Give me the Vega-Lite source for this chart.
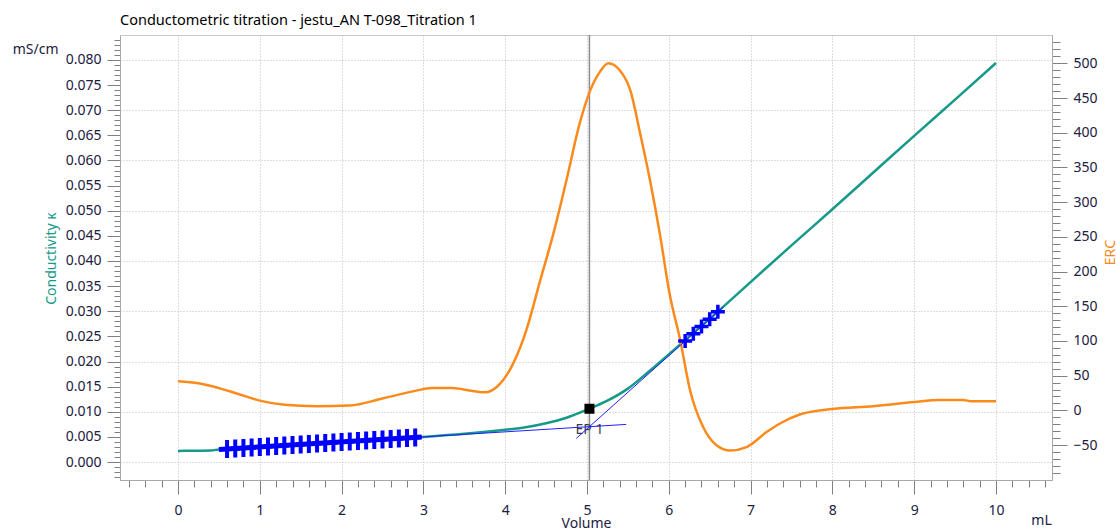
{
  "$schema": "https://vega.github.io/schema/vega-lite/v6.json",
  "width": 932,
  "height": 445,
  "autosize": {"type": "none"},
  "padding": {"left": 120, "top": 35, "right": 65, "bottom": 48},
  "background": "white",
  "config": {
    "font": "Noto Sans",
    "view": {"stroke": "#c8c8c8", "strokeWidth": 1},
    "axis": {
      "domainColor": "#a8a8a8",
      "tickColor": "#808080",
      "labelColor": "#202040",
      "labelFont": "Noto Sans",
      "labelFontSize": 14,
      "labelOverlap": false,
      "labelFlush": false,
      "labelBound": false,
      "gridColor": "#bdbdbd",
      "gridDash": [1, 2],
      "gridWidth": 1,
      "titleFont": "Noto Sans",
      "titleFontWeight": "normal",
      "titleFontSize": 14
    }
  },
  "title": {
    "text": "Conductometric titration - jestu_AN T-098_Titration 1",
    "anchor": "start",
    "frame": "group",
    "font": "Noto Sans",
    "fontSize": 14.5,
    "fontWeight": "normal",
    "color": "#000000",
    "baseline": "alphabetic",
    "offset": 9,
    "dy": 16
  },
  "datasets": {
    "cond": [
      {"v": 0, "k": 0.0022}, {"v": 0.25, "k": 0.00225}, {"v": 0.4, "k": 0.0023},
      {"v": 0.5, "k": 0.0025}, {"v": 0.75, "k": 0.00275}, {"v": 1, "k": 0.003},
      {"v": 1.5, "k": 0.0035}, {"v": 2, "k": 0.004}, {"v": 2.5, "k": 0.0045},
      {"v": 3, "k": 0.005}, {"v": 3.5, "k": 0.0056}, {"v": 4, "k": 0.0064},
      {"v": 4.25, "k": 0.0069}, {"v": 4.5, "k": 0.0077}, {"v": 4.75, "k": 0.0088},
      {"v": 5, "k": 0.0104}, {"v": 5.25, "k": 0.0122}, {"v": 5.5, "k": 0.0146},
      {"v": 5.75, "k": 0.0179}, {"v": 6, "k": 0.0214}, {"v": 6.25, "k": 0.025},
      {"v": 6.5, "k": 0.0285}, {"v": 7, "k": 0.0358}, {"v": 7.5, "k": 0.0431},
      {"v": 8, "k": 0.0503}, {"v": 8.5, "k": 0.0576}, {"v": 9, "k": 0.0649},
      {"v": 9.5, "k": 0.0721}, {"v": 10, "k": 0.0794}
    ],
    "erc": [
      {"v": 0, "erc": 42}, {"v": 0.25, "erc": 39}, {"v": 0.5, "erc": 32},
      {"v": 0.7, "erc": 25}, {"v": 1.0, "erc": 14}, {"v": 1.3, "erc": 8},
      {"v": 1.7, "erc": 6}, {"v": 2.1, "erc": 7}, {"v": 2.5, "erc": 17},
      {"v": 2.9, "erc": 28}, {"v": 3.1, "erc": 32}, {"v": 3.35, "erc": 32},
      {"v": 3.6, "erc": 28}, {"v": 3.75, "erc": 26}, {"v": 3.9, "erc": 34},
      {"v": 4.1, "erc": 68}, {"v": 4.26, "erc": 116}, {"v": 4.43, "erc": 188},
      {"v": 4.59, "erc": 255}, {"v": 4.75, "erc": 332}, {"v": 4.91, "erc": 413},
      {"v": 5.04, "erc": 461}, {"v": 5.16, "erc": 488}, {"v": 5.26, "erc": 500},
      {"v": 5.4, "erc": 490}, {"v": 5.53, "erc": 461}, {"v": 5.65, "erc": 399},
      {"v": 5.77, "erc": 332}, {"v": 5.89, "erc": 255}, {"v": 6.01, "erc": 168},
      {"v": 6.14, "erc": 101}, {"v": 6.26, "erc": 29}, {"v": 6.42, "erc": -24},
      {"v": 6.58, "erc": -50}, {"v": 6.75, "erc": -58}, {"v": 6.95, "erc": -53},
      {"v": 7.2, "erc": -31}, {"v": 7.36, "erc": -19}, {"v": 7.6, "erc": -6},
      {"v": 8.0, "erc": 2}, {"v": 8.5, "erc": 6}, {"v": 9.0, "erc": 12},
      {"v": 9.3, "erc": 15}, {"v": 9.6, "erc": 15}, {"v": 9.7, "erc": 13},
      {"v": 10, "erc": 13}
    ],
    "tangents": [
      {"seg": 1, "v": 0.5, "k": 0.0025}, {"seg": 1, "v": 5.48, "k": 0.00748},
      {"seg": 2, "v": 4.87, "k": 0.00471}, {"seg": 2, "v": 6.67, "k": 0.0309}
    ],
    "thick": [
      {"seg": 1, "v": 0.5, "k": 0.0025}, {"seg": 1, "v": 2.98, "k": 0.00498}
    ],
    "markers": [
      {"seg": 1, "v": 0.6, "k": 0.0026}, {"seg": 1, "v": 0.7, "k": 0.0027},
      {"seg": 1, "v": 0.8, "k": 0.0028}, {"seg": 1, "v": 0.9, "k": 0.0029},
      {"seg": 1, "v": 1.0, "k": 0.003}, {"seg": 1, "v": 1.1, "k": 0.0031},
      {"seg": 1, "v": 1.2, "k": 0.0032}, {"seg": 1, "v": 1.3, "k": 0.0033},
      {"seg": 1, "v": 1.4, "k": 0.0034}, {"seg": 1, "v": 1.5, "k": 0.0035},
      {"seg": 1, "v": 1.6, "k": 0.0036}, {"seg": 1, "v": 1.7, "k": 0.0037},
      {"seg": 1, "v": 1.8, "k": 0.0038}, {"seg": 1, "v": 1.9, "k": 0.0039},
      {"seg": 1, "v": 2.0, "k": 0.004}, {"seg": 1, "v": 2.1, "k": 0.0041},
      {"seg": 1, "v": 2.2, "k": 0.0042}, {"seg": 1, "v": 2.3, "k": 0.0043},
      {"seg": 1, "v": 2.4, "k": 0.0044}, {"seg": 1, "v": 2.5, "k": 0.0045},
      {"seg": 1, "v": 2.6, "k": 0.0046}, {"seg": 1, "v": 2.7, "k": 0.0047},
      {"seg": 1, "v": 2.8, "k": 0.0048}, {"seg": 1, "v": 2.9, "k": 0.0049},
      {"seg": 2, "v": 6.2, "k": 0.02406}, {"seg": 2, "v": 6.3, "k": 0.02552},
      {"seg": 2, "v": 6.4, "k": 0.02697}, {"seg": 2, "v": 6.5, "k": 0.02843},
      {"seg": 2, "v": 6.6, "k": 0.02988}
    ],
    "ep": [{"v": 5.03, "k": 0.0106, "label": "EP 1"}]
  },
  "encoding": {
    "x": {
      "field": "v",
      "type": "quantitative",
      "scale": {"domain": [-0.709, 10.685], "nice": false, "zero": false},
      "axis": {
        "orient": "bottom",
        "title": "Volume",
        "titleColor": "#202040",
        "titleY": 36,
        "titleBaseline": "top",
        "values": [-0.6,-0.4,-0.2,0,0.2,0.4,0.6,0.8,1,1.2,1.4,1.6,1.8,2,2.2,2.4,2.6,2.8,3,3.2,3.4,3.6,3.8,4,4.2,4.4,4.6,4.8,5,5.2,5.4,5.6,5.8,6,6.2,6.4,6.6,6.8,7,7.2,7.4,7.6,7.8,8,8.2,8.4,8.6,8.8,9,9.2,9.4,9.6,9.8,10,10.2,10.4,10.6],
        "labelExpr": "abs(datum.value-round(datum.value))<0.01 && datum.value>-0.5 && datum.value<10.5 ? format(round(datum.value),'d') : (datum.value>10.5 ? 'mL' : '')",
        "tickSize": {"condition": {"test": "abs(datum.value-round(datum.value))<0.01", "value": 14}, "value": 7},
        "labelPadding": {"condition": {"test": "datum.value>10.5", "value": 26}, "value": 9},
        "labelOffset": {"condition": {"test": "datum.value>10.5", "value": -4}, "value": 0},
        "grid": true,
        "gridOpacity": {"condition": {"test": "abs(datum.value-round(datum.value))<0.01 && datum.value>-0.5", "value": 1}, "value": 0}
      }
    }
  },
  "layer": [
    {
      "data": {"name": "ep"},
      "mark": {"type": "rule", "color": "#8c8c8c", "strokeWidth": 1.5},
      "encoding": {}
    },
    {
      "encoding": {
        "y": {
          "field": "k",
          "type": "quantitative",
          "scale": {"domain": [-0.00358, 0.08497], "nice": false, "zero": false},
          "axis": {
            "orient": "left",
            "title": "Conductivity κ",
            "titleColor": "#17998a",
            "titleAngle": -90,
            "titleX": -69,
            "titleY": 223,
            "titleAlign": "center",
            "titleBaseline": "middle",
            "values": [-0.003,-0.002,-0.001,0,0.001,0.002,0.003,0.004,0.005,0.006,0.007,0.008,0.009,0.01,0.011,0.012,0.013,0.014,0.015,0.016,0.017,0.018,0.019,0.02,0.021,0.022,0.023,0.024,0.025,0.026,0.027,0.028,0.029,0.03,0.031,0.032,0.033,0.034,0.035,0.036,0.037,0.038,0.039,0.04,0.041,0.042,0.043,0.044,0.045,0.046,0.047,0.048,0.049,0.05,0.051,0.052,0.053,0.054,0.055,0.056,0.057,0.058,0.059,0.06,0.061,0.062,0.063,0.064,0.065,0.066,0.067,0.068,0.069,0.07,0.071,0.072,0.073,0.074,0.075,0.076,0.077,0.078,0.079,0.08,0.081,0.082,0.083,0.084],
            "labelExpr": "abs(datum.value*200-round(datum.value*200))<0.01 && datum.value>-0.0005 && datum.value<0.0805 ? format(datum.value,'.3f') : (abs(datum.value-0.082)<0.0002 ? 'mS/cm' : '')",
            "tickSize": {"condition": {"test": "abs(datum.value*200-round(datum.value*200))<0.01 && datum.value>-0.0005 && datum.value<0.0805", "value": 13}, "value": 6},
            "labelPadding": {"condition": {"test": "abs(datum.value-0.082)<0.0002", "value": 56}, "value": 6},
            "labelBaseline": "middle",
            "grid": true,
            "gridOpacity": {"condition": {"test": "abs(datum.value*100-round(datum.value*100))<0.01 && datum.value>-0.0005 && datum.value<0.0805", "value": 1}, "value": 0}
          }
        }
      },
      "layer": [
        {
          "data": {"name": "ep"},
          "mark": {"type": "text", "dy": 21, "fontSize": 14, "color": "#404040", "align": "center", "baseline": "middle"},
          "encoding": {"text": {"field": "label"}}
        },
        {
          "data": {"name": "cond"},
          "mark": {"type": "line", "color": "#17998a", "strokeWidth": 2.5, "interpolate": "monotone"},
          "encoding": {}
        }
      ]
    },
    {
      "data": {"name": "erc"},
      "mark": {"type": "line", "color": "#fb8a1c", "strokeWidth": 2.5, "interpolate": "monotone"},
      "encoding": {
        "y": {
          "field": "erc",
          "type": "quantitative",
          "scale": {"domain": [-100.4, 540.8], "nice": false, "zero": false},
          "axis": {
            "orient": "right",
            "title": "ERC",
            "titleColor": "#fb8a1c",
            "titleAngle": -90,
            "titleX": 58,
            "titleY": 217,
            "titleAlign": "center",
            "titleBaseline": "middle",
            "grid": false,
            "values": [-90,-80,-70,-60,-50,-40,-30,-20,-10,0,10,20,30,40,50,60,70,80,90,100,110,120,130,140,150,160,170,180,190,200,210,220,230,240,250,260,270,280,290,300,310,320,330,340,350,360,370,380,390,400,410,420,430,440,450,460,470,480,490,500,510,520,530],
            "labelExpr": "datum.value%50==0 && datum.value>=-50 && datum.value<=500 ? format(datum.value,'d') : ''",
            "tickSize": {"condition": {"test": "datum.value%50==0 && datum.value>=-50 && datum.value<=500", "value": 15}, "value": 8},
            "labelPadding": 6,
            "labelBaseline": "middle"
          }
        }
      }
    },
    {
      "encoding": {
        "y": {
          "field": "k",
          "type": "quantitative",
          "scale": {"domain": [-0.00358, 0.08497], "nice": false, "zero": false},
          "axis": null
        }
      },
      "layer": [
        {
          "data": {"name": "tangents"},
          "mark": {"type": "line", "color": "#2020ff", "strokeWidth": 1},
          "encoding": {"detail": {"field": "seg"}}
        },
        {
          "data": {"name": "thick"},
          "mark": {"type": "line", "color": "#0000ff", "strokeWidth": 5},
          "encoding": {"detail": {"field": "seg"}}
        },
        {
          "data": {"name": "markers"},
          "transform": [{"filter": "datum.seg == 1"}],
          "mark": {"type": "point", "shape": "M0,-1L0,1M-0.5,0L0.5,0", "size": 324, "stroke": "#0000ff", "strokeWidth": 4, "filled": false, "opacity": 1},
          "encoding": {}
        },
        {
          "data": {"name": "markers"},
          "transform": [{"filter": "datum.seg == 2"}],
          "mark": {"type": "point", "shape": "M0,-1L0,1M-1,0L1,0", "size": 196, "stroke": "#0000ff", "strokeWidth": 3.5, "filled": false, "opacity": 1},
          "encoding": {}
        },
        {
          "data": {"name": "ep"},
          "mark": {"type": "point", "shape": "square", "size": 100, "filled": true, "color": "#000000", "opacity": 1},
          "encoding": {}
        }
      ]
    }
  ],
  "resolve": {"scale": {"y": "independent"}, "axis": {"y": "independent"}}
}
